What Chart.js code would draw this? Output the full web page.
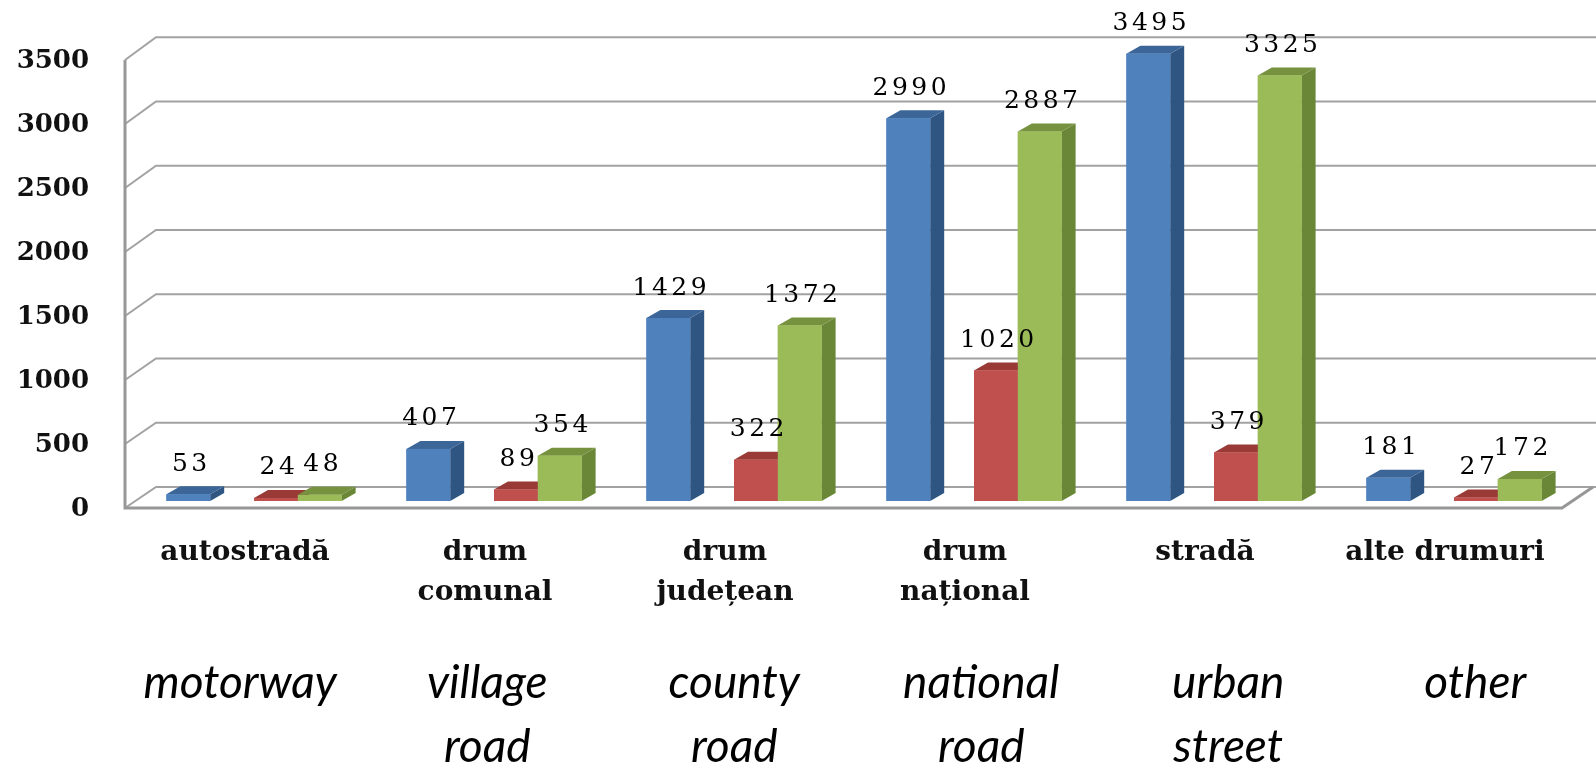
<!DOCTYPE html>
<html lang="ro">
<head>
    <meta charset="UTF-8">
    <title>Accidente pe tipuri de drum</title>
    <script src="https://cdn.jsdelivr.net/npm/chart.js@4.4.0/dist/chart.umd.min.js"></script>
    <style>
        html, body {
            margin: 0;
            padding: 0;
            background: #ffffff;
        }
        .chart-box {
            position: relative;
            width: 1596px;
            height: 764px;
        }
    </style>
</head>
<body>
    <div class="chart-box">
        <canvas id="roadChart"></canvas>
    </div>

    <script>
        // Data
        const roadTypesRo = ['autostradă', ['drum', 'comunal'], ['drum', 'județean'], ['drum', 'național'], 'stradă', 'alte drumuri'];
        const roadTypesEn = ['motorway', ['village', 'road'], ['county', 'road'], ['national', 'road'], ['urban', 'street'], 'other'];
        const seriesBlue = [53, 407, 1429, 2990, 3495, 181];
        const seriesRed = [24, 89, 322, 1020, 379, 27];
        const seriesGreen = [48, 354, 1372, 2887, 3325, 172];
        const emptySlot = [null, null, null, null, null, null];   // hidden series, leaves the gap
        const yTicks = [0, 500, 1000, 1500, 2000, 2500, 3000, 3500];

        const depth = { dx: 14, dy: -8 };

        // fake 3D: back wall, floor, bar sides/tops and value labels
        const bars3d = {
            id: 'bars3d',
            beforeDatasetsDraw(chart) {
                const { ctx, chartArea: a, scales: { y } } = chart;
                const ax = a.left - 9;
                const front = v => y.getPixelForValue(v) + 7;
                const back = v => { const p = y.getPixelForValue(v); return p - 14 - (a.bottom - p) * 0.004; };
                ctx.save();
                ctx.strokeStyle = '#a2a2a2';
                ctx.lineWidth = 2;
                yTicks.forEach(v => {
                    ctx.beginPath();
                    ctx.moveTo(ax, front(v));
                    ctx.lineTo(ax + 31, back(v));
                    ctx.lineTo(chart.width, back(v));
                    ctx.stroke();
                });
                ctx.strokeStyle = '#979797';
                ctx.lineWidth = 3;
                ctx.beginPath();
                ctx.moveTo(ax, front(yTicks[yTicks.length - 1]));
                ctx.lineTo(ax, front(0));
                ctx.lineTo(a.right - 12, front(0));
                ctx.lineTo(a.right + 19, back(0));
                ctx.stroke();
                ctx.restore();
            },
            afterDatasetsDraw(chart) {
                const { ctx } = chart;
                ctx.save();
                chart.data.datasets.forEach((ds, i) => {
                    if (!ds.sideColor) return;
                    chart.getDatasetMeta(i).data.forEach((bar, j) => {
                        if (ds.data[j] == null) return;
                        const { x, y, base, width } = bar.getProps(['x', 'y', 'base', 'width'], true);
                        const l = x - width / 2, r = x + width / 2;
                        ctx.fillStyle = ds.sideColor;
                        ctx.beginPath();
                        ctx.moveTo(r, y);
                        ctx.lineTo(r + depth.dx, y + depth.dy);
                        ctx.lineTo(r + depth.dx, base + depth.dy);
                        ctx.lineTo(r, base);
                        ctx.closePath();
                        ctx.fill();
                        ctx.fillStyle = ds.topColor;
                        ctx.beginPath();
                        ctx.moveTo(l, y);
                        ctx.lineTo(r, y);
                        ctx.lineTo(r + depth.dx, y + depth.dy);
                        ctx.lineTo(l + depth.dx, y + depth.dy);
                        ctx.closePath();
                        ctx.fill();
                        ctx.fillStyle = ds.backgroundColor;
                        ctx.fillRect(l, y, width, base - y);
                    });
                });
                // value labels
                ctx.font = '25px "DejaVu Serif"';
                ctx.letterSpacing = '3.5px';
                ctx.fillStyle = '#000000';
                ctx.textAlign = 'center';
                ctx.textBaseline = 'middle';
                chart.data.datasets.forEach((ds, i) => {
                    if (!ds.sideColor) return;
                    chart.getDatasetMeta(i).data.forEach((bar, j) => {
                        ctx.fillText(String(ds.data[j]), bar.x + 3, bar.y - 30);
                    });
                });
                ctx.restore();
            }
        };

        const ctx = document.getElementById('roadChart');

        new Chart(ctx, {
            type: 'bar',
            data: {
                labels: roadTypesRo,
                datasets: [
                    { data: seriesBlue, stack: 'a', backgroundColor: '#4f81bd', sideColor: '#2f5683', topColor: '#3d6698' },
                    { data: emptySlot, stack: 'b', backgroundColor: 'rgba(0,0,0,0)' },
                    { data: seriesRed, stack: 'c', backgroundColor: '#c0504d', sideColor: '#8c3533', topColor: '#993a37' },
                    { data: seriesGreen, stack: 'd', backgroundColor: '#9bbb59', sideColor: '#6a8637', topColor: '#77923f' }
                ]
            },
            options: {
                responsive: true,
                maintainAspectRatio: false,
                animation: false,
                categoryPercentage: 0.73,
                barPercentage: 1,
                layout: { padding: { top: 53, right: 22, bottom: 0, left: 0 } },
                plugins: {
                    legend: { display: false },
                    tooltip: { enabled: false }
                },
                scales: {
                    y: {
                        min: 0,
                        max: 3500,
                        grid: { display: false, drawTicks: false },
                        border: { display: false },
                        afterFit: s => { s.width = 134; s.paddingTop = 0; s.paddingBottom = 0; },
                        afterBuildTicks: s => { s.ticks = yTicks.map(v => ({ value: v })); },
                        ticks: {
                            padding: 45,
                            labelOffset: 8,
                            color: '#111111',
                            font: { family: '"DejaVu Serif"', size: 26, weight: 'bold' },
                            callback: v => String(v)
                        }
                    },
                    x: {
                        grid: { display: false, drawTicks: false },
                        border: { display: false },
                        afterFit: s => { s.height = 130; },
                        ticks: {
                            padding: 32,
                            labelOffset: -9,
                            maxRotation: 0,
                            autoSkip: false,
                            color: '#111111',
                            font: { family: '"DejaVu Serif"', size: 28, weight: 'bold', lineHeight: 1.43 }
                        }
                    },
                    // English captions sit on their own, slightly wider, spacing
                    x2: {
                        type: 'linear',
                        position: 'bottom',
                        weight: 1,
                        offset: false,
                        min: -0.43,
                        max: 5.4,
                        grid: { display: false, drawTicks: false },
                        border: { display: false },
                        afterFit: s => { s.height = 133; },
                        afterBuildTicks: s => { s.ticks = roadTypesEn.map((t, i) => ({ value: i })); },
                        ticks: {
                            padding: 20,
                            maxRotation: 0,
                            autoSkip: false,
                            color: '#000000',
                            font: { family: 'Lato', size: 46, style: 'italic', lineHeight: 1.39 },
                            callback: v => roadTypesEn[v]
                        }
                    }
                }
            },
            plugins: [bars3d]
        });
    </script>
</body>
</html>
